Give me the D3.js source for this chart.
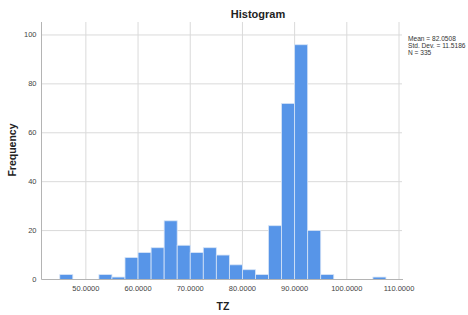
<!DOCTYPE html>
<html>
<head>
  <meta charset="UTF-8">
  <title>Histogram</title>
  <style>
    body { margin: 0; background: white; }
    svg { display: block; font-family: "Liberation Sans", Arial, sans-serif; }
  </style>
</head>
<body>
<svg></svg>
<script src="https://d3js.org/d3.v7.min.js"></script>
<script>

let width = 468, height = 315;

// bin start values (width 2.5) and counts
let binStarts = [45, 52.5, 55, 57.5, 60, 62.5, 65, 67.5, 70, 72.5, 75, 77.5, 80, 82.5, 85, 87.5, 90, 92.5, 95, 105];
let counts    = [2, 2, 1, 9, 11, 13, 24, 14, 11, 13, 10, 6, 4, 2, 22, 72, 96, 20, 2, 1];
let binWidth = 2.5;
let xTicks = [50, 60, 70, 80, 90, 100, 110];
let yTicks = [0, 20, 40, 60, 80, 100];
let stats = ["Mean = 82.0508", "Std. Dev. = 11.5186", "N = 335"];

let margin = {left: 41.5, right: 69, top: 22, bottom: 35.5};

let svg = d3.select("svg")
    .attr("width", width)
    .attr("height", height);

let x = d3.scaleLinear()
    .domain([41.5, 110])
    .range([margin.left, width - margin.right]);

let y = d3.scaleLinear()
    .domain([0, 105.3])
    .range([height - margin.bottom, margin.top]);

// grid
svg.append("g")
  .selectAll("line")
  .data(xTicks.slice(0, -1))
  .enter().append("line")
    .attr("x1", d => x(d)).attr("x2", d => x(d))
    .attr("y1", margin.top).attr("y2", y(0))
    .attr("stroke", "#dadada").attr("stroke-width", 1);

// last vertical line at right edge
svg.append("line")
    .attr("x1", x(110)).attr("x2", x(110))
    .attr("y1", margin.top).attr("y2", y(0))
    .attr("stroke", "#dadada");

svg.append("g")
  .selectAll("line")
  .data(yTicks.slice(1))
  .enter().append("line")
    .attr("x1", margin.left).attr("x2", x(110) + 3)
    .attr("y1", d => y(d)).attr("y2", d => y(d))
    .attr("stroke", "#dadada").attr("stroke-width", 1);

// bars
svg.append("g")
  .selectAll("rect")
  .data(binStarts)
  .enter().append("rect")
    .attr("x", d => x(d))
    .attr("width", d => x(d + binWidth) - x(d))
    .attr("y", (d, i) => y(counts[i]))
    .attr("height", (d, i) => y(0) - y(counts[i]))
    .attr("fill", "#5795e8")
    .attr("stroke", "#d6e4f7")
    .attr("stroke-width", 0.8);

// axes
svg.append("line")
    .attr("x1", margin.left).attr("x2", margin.left)
    .attr("y1", margin.top).attr("y2", y(0))
    .attr("stroke", "#b4b4b4");
svg.append("line")
    .attr("x1", margin.left).attr("x2", x(110) + 4)
    .attr("y1", y(0)).attr("y2", y(0))
    .attr("stroke", "#b4b4b4");

// tick labels
svg.append("g")
  .selectAll("text")
  .data(xTicks)
  .enter().append("text")
    .attr("x", d => x(d))
    .attr("y", y(0) + 11)
    .attr("text-anchor", "middle")
    .style("font-size", "7.5px")
    .attr("fill", "#444")
    .text(d => d.toFixed(4));

svg.append("g")
  .selectAll("text")
  .data(yTicks)
  .enter().append("text")
    .attr("x", margin.left - 5)
    .attr("y", d => y(d) + 2.5)
    .attr("text-anchor", "end")
    .style("font-size", "7.5px")
    .attr("fill", "#444")
    .text(d => d);

// titles
svg.append("text")
    .attr("x", 258).attr("y", 18)
    .attr("text-anchor", "middle")
    .style("font-size", "11px").style("font-weight", "bold")
    .attr("fill", "#222")
    .text("Histogram");

svg.append("text")
    .attr("transform", "translate(16,150) rotate(-90)")
    .attr("text-anchor", "middle")
    .style("font-size", "10.5px").style("font-weight", "bold")
    .attr("fill", "#222")
    .text("Frequency");

svg.append("text")
    .attr("x", 223).attr("y", 310)
    .attr("text-anchor", "middle")
    .style("font-size", "10.5px").style("font-weight", "bold")
    .attr("fill", "#222")
    .text("TZ");

// stats box
svg.append("g")
  .selectAll("text")
  .data(stats)
  .enter().append("text")
    .attr("x", 408)
    .attr("y", (d, i) => 41 + i * 7)
    .style("font-size", "6.6px")
    .attr("fill", "#333")
    .text(d => d);

</script>
</body>
</html>
